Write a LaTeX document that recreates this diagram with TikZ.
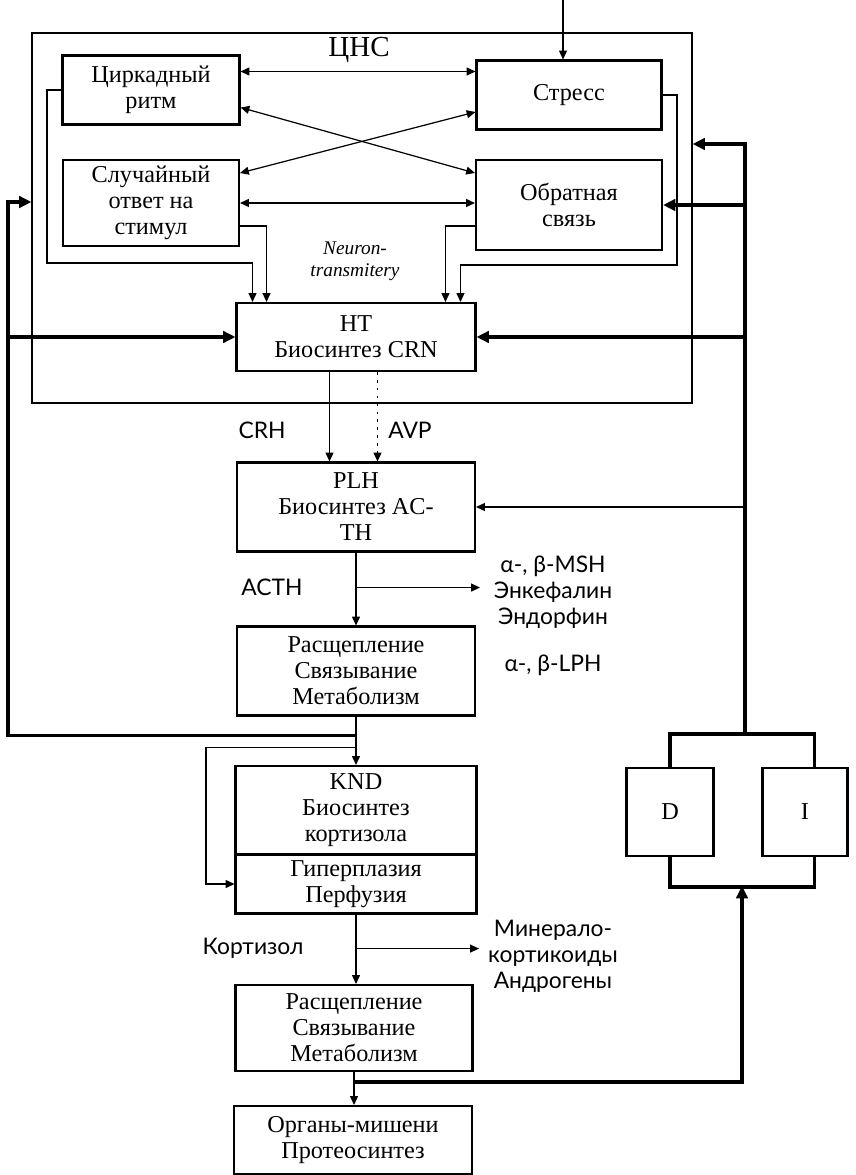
\documentclass[tikz,border=0pt]{standalone}
\usepackage{fontspec}
\setmainfont{Liberation Serif}
\newfontfamily\lblfont{Lato}
\usetikzlibrary{positioning}
\usetikzlibrary{arrows.meta}
\tikzset{
    mybox/.style = {rectangle, line width=1.2pt, draw=black, align=center, inner sep=2pt, font=\fontsize{13.8}{14.8}\selectfont, text=black},
    myframe/.style = {rectangle, line width=0.7pt, draw=black},
    mylabel/.style = {align=center, font=\lblfont\fontsize{13}{14.8}\selectfont, text=black},
    edgel/.style = {-, line width=0.7pt, black},
    edgen/.style = {-{Triangle[length=5pt,width=4.5pt]}, line width=0.7pt, black},
    edgenn/.style = {{Triangle[length=5pt,width=4.5pt]}-{Triangle[length=5pt,width=4.5pt]}, line width=0.7pt, black},
    edged/.style = {-{Triangle[length=5pt,width=4.5pt]}, line width=0.7pt, black, dash pattern=on 1.5pt off 3pt}, % AVP
    edget/.style = {-{Triangle[length=7pt,width=6.5pt]}, line width=1.8pt, black}, % feedback
    edgetl/.style = {-, line width=1.8pt, black}
}
\begin{document}
\begin{tikzpicture}[x=0.02cm, y=-0.02cm]
\path[use as bounding box] (0,0) rectangle (855,1175);
%
\node[myframe, minimum width=13.2cm, minimum height=7.4cm] at (362,218) (cns) {};
\node[font=\fontsize{16.5}{16.5}\selectfont] at (359,50) (cnslbl) {ЦНС};
\node[mybox, minimum width=3.54cm, minimum height=1.38cm] at (151,90) (circ) {Циркадный\\ритм};
\node[mybox, minimum width=3.52cm, minimum height=1.72cm] at (151,203) (rand) {Случайный\\ответ на\\стимул};
\node[mybox, minimum width=3.7cm, minimum height=1.38cm] at (569,95) (stress) {Стресс};
\node[mybox, minimum width=3.72cm, minimum height=1.8cm] at (569,205) (fb) {Обратная\\связь};
\node[align=center, font=\itshape\fontsize{11}{12.5}\selectfont] at (355,261) (neur) {Neuron-\\transmitery};
\node[mybox, minimum width=4.78cm, minimum height=1.36cm] at (356,337) (ht) {HT\\Биосинтез CRN};
\node[mybox, minimum width=4.76cm, minimum height=1.78cm] at (356,507) (plh) {PLH\\Биосинтез AC-\\TH};
\node[mybox, minimum width=4.76cm, minimum height=1.78cm] at (356,671) (met1) {Расщепление\\Связывание\\Метаболизм};
\node[mybox, minimum width=4.82cm, minimum height=1.76cm] at (356,810) (knd) {KND\\Биосинтез\\кортизола};
\node[mybox, minimum width=4.82cm, minimum height=1.18cm] at (356,884) (hyp) {Гиперплазия\\Перфузия};
\node[mybox, minimum width=4.74cm, minimum height=1.72cm] at (354,1028) (met2) {Расщепление\\Связывание\\Метаболизм};
\node[mybox, minimum width=4.76cm, minimum height=1.36cm] at (353,1140) (org) {Органы-мишени\\Протеосинтез};
\node[mybox, minimum width=1.74cm, minimum height=1.76cm] at (670,812) (D) {D};
\node[mybox, minimum width=1.7cm, minimum height=1.76cm] at (805,812) (I) {I};
%
\node[mylabel] at (262,430) (crh) {CRH};
\node[mylabel] at (410,430) (avp) {AVP};
\node[mylabel] at (272,587) (acth) {ACTH};
\node[mylabel] at (553,592) (msh) {α-, β-MSH\\Энкефалин\\Эндорфин};
\node[mylabel] at (553,665) (lph) {α-, β-LPH};
\node[mylabel] at (253,948) (kort) {Кортизол};
\node[mylabel] at (553,956) (miner) {Минерало-\\кортикоиды\\Андрогены};
%
\coordinate (in) at (563,0);
\coordinate (lf) at (8,202);
\coordinate (rt) at (745,144);
\coordinate (dtop) at (745,735);
\coordinate (dbot) at (742,886);
%
\draw[edgen] (in) -- (in |- stress.north);
\draw[edgenn] ([yshift=0.37cm]circ.east) -- ([yshift=0.37cm]circ.east -| stress.west);
\draw[edgenn] ([yshift=-0.35cm]circ.east) -- ([yshift=0.64cm]fb.west);
\draw[edgenn] ([yshift=0.6cm]rand.east) -- ([yshift=-0.34cm]stress.west);
\draw[edgenn] (rand.east) -- (rand.east -| fb.west);
%
\draw[edgen] (circ.west) -| (47,263) -| ([xshift=-2.07cm]ht.north);
\draw[edgen] ([yshift=-0.46cm]rand.east) -| ([xshift=-1.79cm]ht.north);
\draw[edgen] (stress.east) -| (677,265) -| ([xshift=2.09cm]ht.north);
\draw[edgen] ([yshift=-0.42cm]fb.west) -| ([xshift=1.79cm]ht.north);
%
\draw[edgen] ([xshift=-0.53cm]ht.south) -- ([xshift=-0.53cm]ht.south |- plh.north);
\draw[edged] ([xshift=0.43cm]ht.south) -- ([xshift=0.43cm]ht.south |- plh.north);
\draw[edgen] (plh.south) -- (met1.north);
\draw[edgen] ([yshift=-0.7cm]plh.south) -- ++(2.48cm,0);
\draw[edgen] (met1.south) -- (knd.north);
\draw[edgen] ([yshift=-0.62cm]met1.south) -- ++(-3cm,0) |- (hyp.west);
\draw[edgen] (hyp.south) -- (hyp.south |- met2.north);
\draw[edgen] ([yshift=-0.68cm]hyp.south) -- ++(2.46cm,0);
\draw[edgen] (met2.south) -- (met2.south |- org.north);
%
\draw[edget] ([yshift=-0.38cm]met1.south) -| (lf) -- (lf -| cns.west);
\draw[edget] (lf |- ht.west) -- (ht.west);
\draw[edget] (dtop) -- (rt) -- (rt -| cns.east);
\draw[edget] (dtop |- fb.east) -- (fb.east);
\draw[edget] (dtop |- ht.east) -- (ht.east);
\draw[edgen] (dtop |- plh.east) -- (plh.east);
\draw[edgetl] (D.north) -- ++(0,0.66cm) -| ([xshift=0.19cm]I.north);
\draw[edgetl] (D.south) -- ++(0,-0.6cm) -| ([xshift=0.19cm]I.south);
\draw[edget] ([yshift=-0.2cm]met2.south) -| (dbot);
\end{tikzpicture}
\end{document}
